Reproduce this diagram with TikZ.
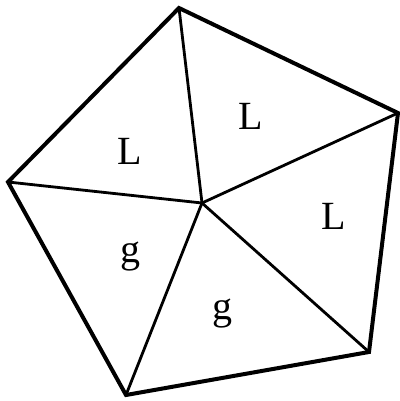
\documentclass[tikz,border=0pt]{standalone}
\usepackage{fontspec}
\setmainfont{Liberation Serif}
\tikzset{every picture/.style={line width=0.75pt}}
\begin{document}
\begin{tikzpicture}[x=0.75pt,y=0.75pt,yscale=-1,xscale=1]
\useasboundingbox (0,0) rectangle (400,401);
%Corners
\coordinate (T) at (179,8);
\coordinate (R) at (398,113);
\coordinate (BR) at (369,352);
\coordinate (B) at (126,395);
\coordinate (Lf) at (8,182);
\coordinate (O) at (202,203);

%Spokes
\draw [line width=2.1pt]  (O) -- (T) ;
\draw [line width=2.1pt]  (O) -- (R) ;
\draw [line width=2.1pt]  (O) -- (BR) ;
\draw [line width=2.1pt]  (O) -- (B) ;
\draw [line width=2.1pt]  (O) -- (Lf) ;
%Outline
\draw [line width=3pt, line join=miter]  (T) -- (R) -- (BR) -- (B) -- (Lf) -- cycle ;

% Text Node
\draw (130,151) node (l1) [inner sep=0.75pt]  [font=\fontsize{30}{34}\selectfont] {L};
% Text Node
\draw (251,116) node (l2) [inner sep=0.75pt]  [font=\fontsize{30}{34}\selectfont] {L};
% Text Node
\draw (334,216) node (l3) [inner sep=0.75pt]  [font=\fontsize{30}{34}\selectfont] {L};
% Text Node
\draw (130,257) node (g1) [inner sep=0.75pt]  [font=\fontsize{30}{34}\selectfont] {g};
% Text Node
\draw (222,314) node (g2) [inner sep=0.75pt]  [font=\fontsize{30}{34}\selectfont] {g};
\end{tikzpicture}
\end{document}
